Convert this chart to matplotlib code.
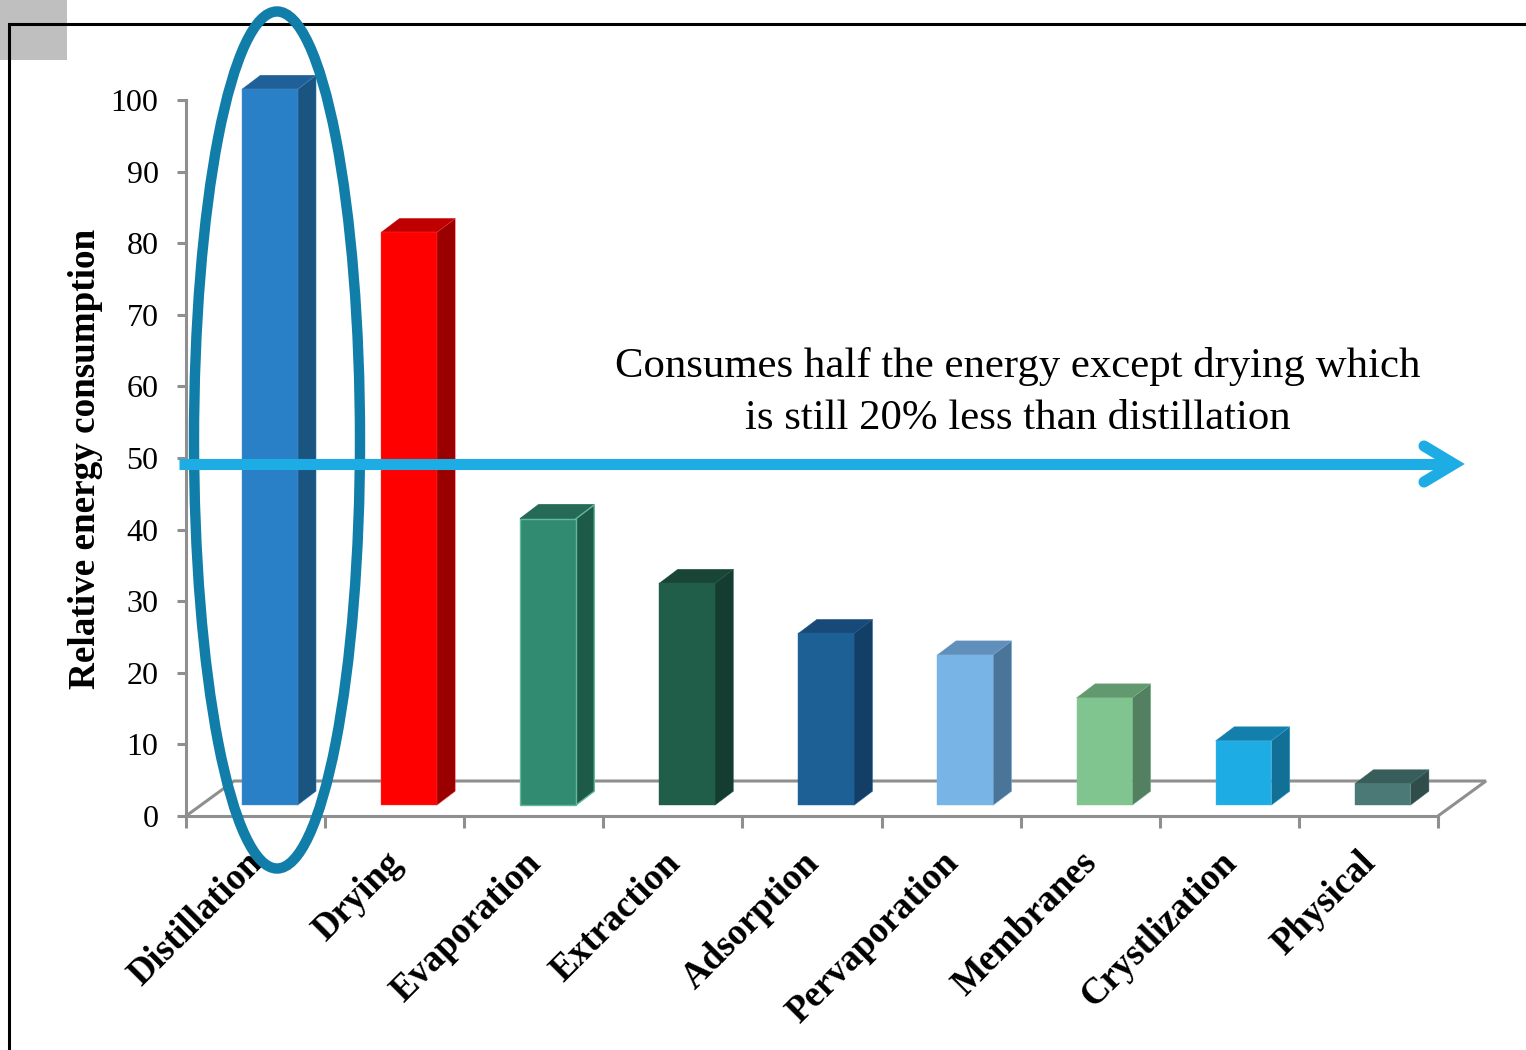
import numpy as np
import matplotlib
matplotlib.use('Agg')
import matplotlib.pyplot as plt
from matplotlib.patches import Ellipse, Rectangle, Polygon
from matplotlib.lines import Line2D
from matplotlib.transforms import Affine2D

plt.rcParams['font.family'] = ['Liberation Serif', 'DejaVu Serif']

categories = ['Distillation', 'Drying', 'Evaporation', 'Extraction', 'Adsorption',
              'Pervaporation', 'Membranes', 'Crystlization', 'Physical']
values = [100, 80, 40, 31, 24, 21, 15, 9, 3]
front_colors = ['#2980c6', '#ff0000', '#318b70', '#215e4a', '#1c6096',
                '#78b5e6', '#80c590', '#1eace5', '#4b7a76']
top_colors = ['#1f6099', '#c00000', '#256a56', '#184536', '#174a78',
              '#5f8fba', '#62996f', '#137fac', '#385e5b']
side_colors = ['#1a5582', '#9b0000', '#1e5a48', '#153c30', '#133f66',
               '#4a7599', '#528060', '#126f96', '#2f4d4a']
edge_colors = ['#4f95cf', '#ff4040', '#62b89c', '#215e4a', '#1c6096',
               '#78b5e6', '#80c590', '#40b8ea', '#4b7a76']
edge_widths = [0.3, 0.3, 1.0, 0.3, 0.3, 0.3, 0.3, 0.3, 0.3]
y_ticks = np.arange(0, 101, 10)

W, H = 1526, 1050
GRAY = '#8f8f8f'

fig = plt.figure(figsize=(W / 100, H / 100), dpi=100)
# axes box runs from the 0 tick to the 100 tick
ax = fig.add_axes([186 / W, 1 - 816 / H, (1438 - 186) / W, (816 - 100) / H])
ax.set_xlim(0, 9)
ax.set_ylim(0, 100)
ax.patch.set_visible(False)

# overlay stuff is placed in pixels measured from the top left corner
px = Affine2D().scale(1, -1).translate(0, H)

# fake 3D depth, in data units
floor_dx, floor_dy = 48 / 139.1, 35 / 7.16
bar_dx, bar_dy = 18.5 / 139.1, 14 / 7.16
bar_w = 0.4
bar_off = 0.102
bar_base = 1.5

ax.plot([0, floor_dx, 9 + floor_dx, 9], [0, floor_dy, floor_dy, 0],
        color=GRAY, lw=2.2, clip_on=False, zorder=1, solid_joinstyle='miter')

centers = np.arange(len(values)) + 0.5 + bar_off
for xc, v, top_c, side_c, edge_c, edge_w in zip(centers, values, top_colors, side_colors,
                                                 edge_colors, edge_widths):
    x0 = xc - bar_w / 2
    x1 = xc + bar_w / 2
    y0 = bar_base
    y1 = bar_base + v
    ax.add_patch(Polygon([(x0, y1), (x1, y1), (x1 + bar_dx, y1 + bar_dy), (x0 + bar_dx, y1 + bar_dy)],
                         facecolor=top_c, edgecolor=top_c, lw=edge_w, zorder=3, clip_on=False))
    ax.add_patch(Polygon([(x1, y0), (x1 + bar_dx, y0 + bar_dy), (x1 + bar_dx, y1 + bar_dy), (x1, y1)],
                         facecolor=side_c, edgecolor=edge_c, lw=edge_w, zorder=3, clip_on=False))
ax.bar(centers, values, width=bar_w, bottom=bar_base, color=front_colors,
       edgecolor=edge_colors, linewidth=edge_widths, zorder=3.5, clip_on=False)

for s in ['top', 'right']:
    ax.spines[s].set_visible(False)
for s in ['left', 'bottom']:
    ax.spines[s].set_color(GRAY)
    ax.spines[s].set_linewidth(2.2)

ax.set_yticks(y_ticks)
ax.tick_params(axis='y', length=6.5, width=2.2, color=GRAY, labelsize=23, pad=13.3, labelcolor='black')
ax.set_xticks(np.arange(0, 10))
ax.set_xticklabels([])
ax.tick_params(axis='x', length=8.5, width=2.2, color=GRAY)

# rotated category names end just under their slot
for i, name in enumerate(categories):
    ax.annotate(name, xy=(i + 0.5, 0), xytext=(-7.7, -21), textcoords='offset points',
                rotation=45, ha='right', va='top', rotation_mode='anchor',
                fontsize=26.5, fontweight='bold', color='black', annotation_clip=False)

fig.text(85.5 / W, 1 - 459 / H, 'Relative energy consumption', rotation=90, ha='center', va='center',
         fontsize=26.7, fontweight='bold', color='black')

fig.text(1018 / W, 1 - 367 / H, 'Consumes half the energy except drying which',
         ha='center', va='center', fontsize=30.8, color='black')
fig.text(1018 / W, 1 - 419 / H, 'is still 20% less than distillation',
         ha='center', va='center', fontsize=30.8, color='black')

# grey corner block and the slide frame
fig.add_artist(Rectangle((0, 0), 67, 60, transform=px, facecolor='#bfbfbf', edgecolor='none', zorder=5))
fig.add_artist(Line2D([9, 9, W], [H, 24, 24], transform=px, color='black', lw=2.2,
                      solid_joinstyle='miter', zorder=6))

# highlight ring around the first column
fig.add_artist(Ellipse((277, 440), 166, 857, transform=px, facecolor='none',
                       edgecolor='#107ea8', lw=7.5, zorder=7))

# half-way arrow
ARROW = '#1dade4'
fig.add_artist(Line2D([179, 1448], [464, 464], transform=px, color=ARROW, lw=8,
                      solid_capstyle='butt', zorder=8))
fig.add_artist(Line2D([1424, 1454, 1424], [446, 464, 482], transform=px, color=ARROW, lw=8,
                      solid_capstyle='round', solid_joinstyle='miter', zorder=8))

fig.savefig('out.png', dpi=100)
